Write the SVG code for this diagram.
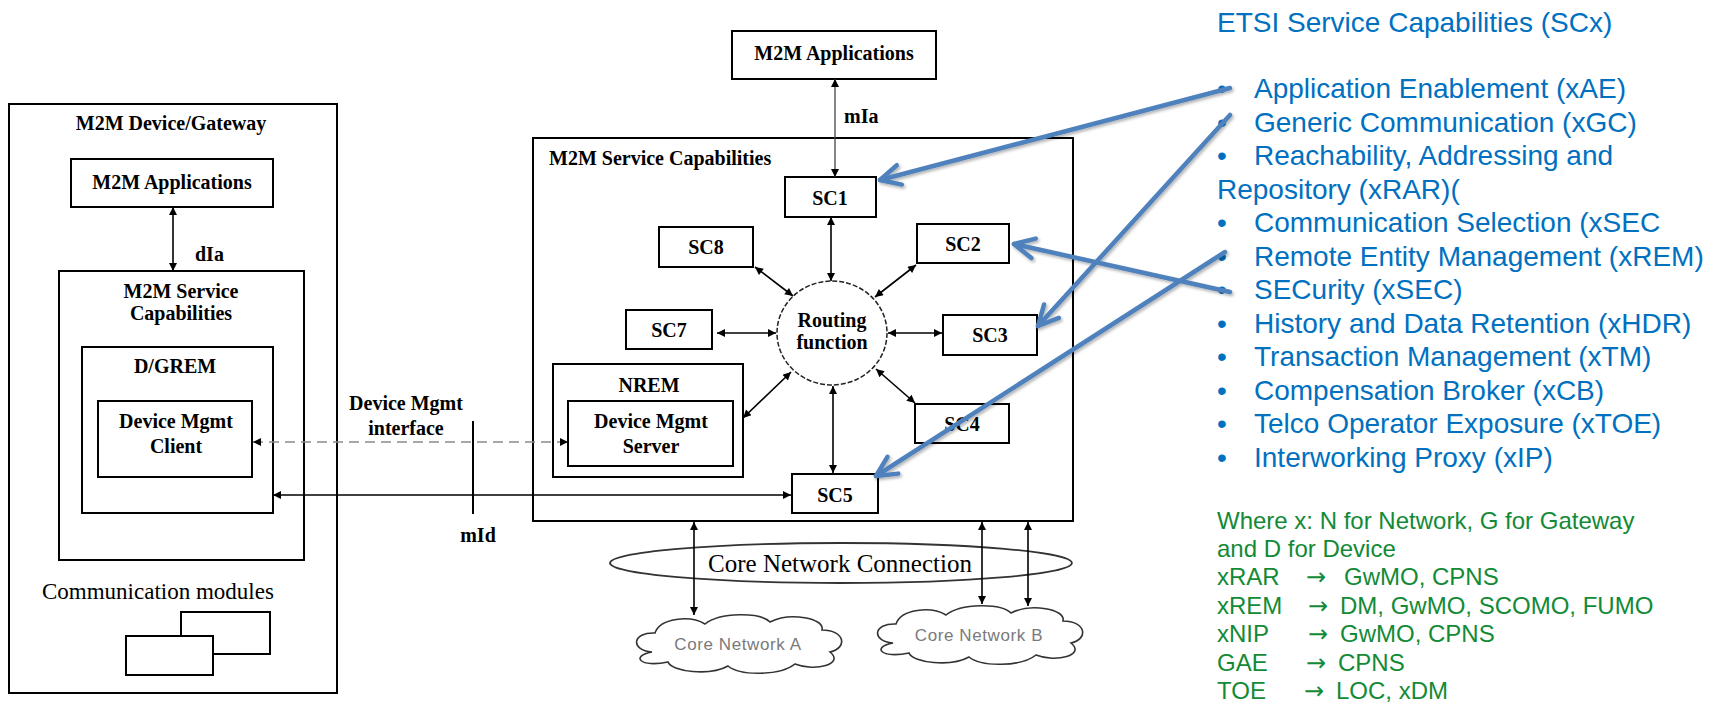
<svg xmlns="http://www.w3.org/2000/svg" width="1717" height="702" viewBox="0 0 1717 702">
<style>
.bx{fill:#fff;stroke:#000;stroke-width:2}
.lb{font-family:"Liberation Serif",serif;font-weight:bold;font-size:20px;fill:#000;text-anchor:middle}
.lbs{font-family:"Liberation Serif",serif;font-weight:bold;font-size:20px;fill:#000}
.rg{font-family:"Liberation Serif",serif;font-size:23px;fill:#000}
.cn{font-family:"Liberation Sans",sans-serif;font-size:17px;fill:#7a7a7a;text-anchor:middle;letter-spacing:0.6px}
.cl{fill:#fff;stroke:#333;stroke-width:1.6}
.c{fill:none;stroke:#000;stroke-width:1.6;marker-start:url(#ah);marker-end:url(#ah)}
.bl{fill:none;stroke:#4F81BD;stroke-width:4.5;stroke-linecap:round;marker-end:url(#bh)}
.bt{font-family:"Liberation Sans",Arial,sans-serif;font-size:28px;fill:#0070C0}
.gt{font-family:"Liberation Sans",Arial,sans-serif;font-size:24px;fill:#138A36}
.ga{font-family:"DejaVu Sans",sans-serif;font-size:24px;fill:#138A36}
</style>
<defs>
<marker id="ah" viewBox="0 0 10 10" refX="10" refY="5" markerWidth="10" markerHeight="8" markerUnits="userSpaceOnUse" orient="auto-start-reverse"><path d="M0,0 L10,5 L0,10 z" fill="#000"/></marker>
<marker id="bh" viewBox="-24 -13 28 26" refX="0" refY="0" markerWidth="28" markerHeight="26" markerUnits="userSpaceOnUse" orient="auto"><path d="M-20,-10 L0,0 L-20,10" fill="none" stroke="#4F81BD" stroke-width="4.5" stroke-linecap="round" stroke-linejoin="round"/></marker>
<filter id="sh" x="-10%" y="-10%" width="120%" height="120%"><feDropShadow dx="1.5" dy="2" stdDeviation="1.5" flood-color="#000" flood-opacity="0.3"/></filter>
</defs>
<rect width="1717" height="702" fill="#fff"/>

<g id="device-gateway">
<rect class="bx" x="9" y="104" width="328" height="589"/>
<text class="lb" x="171" y="130">M2M Device/Gateway</text>
</g>
<g id="dg-apps">
<rect class="bx" x="71" y="159" width="202" height="48"/>
<text class="lb" x="172" y="189">M2M Applications</text>
</g>
<g id="dg-sc">
<rect class="bx" x="59" y="271" width="245" height="289"/>
<text class="lb" x="181" y="298">M2M Service</text>
<text class="lb" x="181" y="320">Capabilities</text>
</g>
<g id="dgrem">
<rect class="bx" x="82" y="347" width="191" height="166"/>
<text class="lb" x="175" y="373">D/GREM</text>
</g>
<g id="dm-client">
<rect class="bx" x="98" y="401" width="154" height="76"/>
<text class="lb" x="176" y="428">Device Mgmt</text>
<text class="lb" x="176" y="453">Client</text>
</g>
<g id="comm-modules">
<text class="rg" x="42" y="599">Communication modules</text>
<rect class="bx" x="181" y="612" width="89" height="42"/>
<rect class="bx" x="126" y="636" width="87" height="39"/>
</g>

<g id="net-apps">
<rect class="bx" x="732" y="31" width="204" height="48"/>
<text class="lb" x="834" y="60">M2M Applications</text>
</g>
<g id="net-sc">
<rect class="bx" x="533" y="138" width="540" height="383"/>
<text class="lbs" x="549" y="165">M2M Service Capabilities</text>
</g>
<g id="sc1"><rect class="bx" x="785" y="177" width="91" height="40"/><text class="lb" x="830" y="205">SC1</text></g>
<g id="sc8"><rect class="bx" x="659" y="227" width="94" height="40"/><text class="lb" x="706" y="254">SC8</text></g>
<g id="sc2"><rect class="bx" x="917" y="224" width="92" height="39"/><text class="lb" x="963" y="251">SC2</text></g>
<g id="sc7"><rect class="bx" x="626" y="310" width="86" height="39"/><text class="lb" x="669" y="337">SC7</text></g>
<g id="sc3"><rect class="bx" x="943" y="315" width="94" height="40"/><text class="lb" x="990" y="342">SC3</text></g>
<g id="routing">
<ellipse cx="832" cy="333" rx="55" ry="52" fill="#fff" stroke="#222" stroke-width="1.5" stroke-dasharray="5 2"/>
<text class="lb" x="832" y="327">Routing</text>
<text class="lb" x="832" y="349">function</text>
</g>
<g id="nrem">
<rect class="bx" x="553" y="364" width="190" height="113"/>
<text class="lb" x="649" y="392">NREM</text>
</g>
<g id="dm-server">
<rect class="bx" x="568" y="401" width="165" height="65"/>
<text class="lb" x="651" y="428">Device Mgmt</text>
<text class="lb" x="651" y="453">Server</text>
</g>
<g id="sc4"><rect class="bx" x="915" y="404" width="94" height="39"/><text class="lb" x="962" y="431">SC4</text></g>
<g id="sc5"><rect class="bx" x="792" y="474" width="86" height="39"/><text class="lb" x="835" y="502">SC5</text></g>

<g id="core-connection">
<ellipse cx="841" cy="563" rx="231" ry="20" fill="none" stroke="#333" stroke-width="1.8"/>
<text class="rg" x="840" y="572" text-anchor="middle" style="font-size:25px">Core Network Connection</text>
</g>
<g id="core-a">
<path class="cl" d="M652 652 C630 650 632 632 655 633 C660 618 690 615 705 624 C720 612 760 612 770 622 C790 612 825 618 822 630 C845 630 848 648 830 652 C845 664 815 672 795 664 C780 676 740 676 728 666 C710 676 672 672 668 662 C640 668 630 656 652 652 Z"/>
<text class="cn" x="738" y="650">Core Network A</text>
</g>
<g id="core-b">
<path class="cl" transform="translate(241,-9)" d="M652 652 C630 650 632 632 655 633 C660 618 690 615 705 624 C720 612 760 612 770 622 C790 612 825 618 822 630 C845 630 848 648 830 652 C845 664 815 672 795 664 C780 676 740 676 728 666 C710 676 672 672 668 662 C640 668 630 656 652 652 Z"/>
<text class="cn" x="979" y="641">Core Network B</text>
</g>

<g id="labels">
<text class="lbs" x="195" y="261">dIa</text>
<text class="lbs" x="844" y="123">mIa</text>
<text class="lb" x="406" y="410">Device Mgmt</text>
<text class="lb" x="406" y="435">interface</text>
<text class="lb" x="478" y="542">mId</text>
</g>

<g id="connectors">
<line class="c" x1="173" y1="207" x2="173" y2="271"/>
<line class="c" x1="835" y1="79" x2="835" y2="177" style="stroke:#444;stroke-width:1.3"/>
<line class="c" x1="831" y1="217" x2="831" y2="281"/>
<line class="c" x1="755" y1="267" x2="793" y2="296"/>
<line class="c" x1="916" y1="265" x2="875" y2="297"/>
<line class="c" x1="717" y1="333" x2="776" y2="333"/>
<line class="c" x1="888" y1="333" x2="942" y2="333"/>
<line class="c" x1="743" y1="418" x2="791" y2="372"/>
<line class="c" x1="876" y1="369" x2="915" y2="403"/>
<line class="c" x1="833" y1="386" x2="833" y2="473"/>
<line class="c" x1="694" y1="522" x2="694" y2="615"/>
<line class="c" x1="982" y1="522" x2="982" y2="604"/>
<line class="c" x1="1028" y1="522" x2="1028" y2="606"/>
<line class="c" x1="253" y1="442" x2="568" y2="442" style="stroke:#8a8a8a;stroke-dasharray:10 6"/>
<line class="c" x1="273" y1="495" x2="791" y2="495"/>
<line x1="473" y1="421" x2="473" y2="514" stroke="#000" stroke-width="2"/>
</g>

<g id="sc-list">
<text class="bt" x="1217" y="32">ETSI Service Capabilities (SCx)</text>
<text class="bt" x="1217" y="98">•</text><text class="bt" x="1254" y="98">Application Enablement (xAE)</text>
<text class="bt" x="1217" y="131.5">•</text><text class="bt" x="1254" y="131.5">Generic Communication (xGC)</text>
<text class="bt" x="1217" y="165">•</text><text class="bt" x="1254" y="165">Reachability, Addressing and</text>
<text class="bt" x="1217" y="198.5">Repository (xRAR)(</text>
<text class="bt" x="1217" y="232">•</text><text class="bt" x="1254" y="232">Communication Selection (xSEC</text>
<text class="bt" x="1217" y="265.5">•</text><text class="bt" x="1254" y="265.5">Remote Entity Management (xREM)</text>
<text class="bt" x="1217" y="299">•</text><text class="bt" x="1254" y="299">SECurity (xSEC)</text>
<text class="bt" x="1217" y="332.5">•</text><text class="bt" x="1254" y="332.5">History and Data Retention (xHDR)</text>
<text class="bt" x="1217" y="366">•</text><text class="bt" x="1254" y="366">Transaction Management (xTM)</text>
<text class="bt" x="1217" y="399.5">•</text><text class="bt" x="1254" y="399.5">Compensation Broker (xCB)</text>
<text class="bt" x="1217" y="433">•</text><text class="bt" x="1254" y="433">Telco Operator Exposure (xTOE)</text>
<text class="bt" x="1217" y="466.5">•</text><text class="bt" x="1254" y="466.5">Interworking Proxy (xIP)</text>
</g>

<g id="mapping">
<text class="gt" x="1217" y="529">Where x: N for Network, G for Gateway</text>
<text class="gt" x="1217" y="557">and D for Device</text>
<text class="gt" x="1217" y="585">xRAR</text><text class="ga" x="1306" y="585">→</text><text class="gt" x="1344" y="585">GwMO, CPNS</text>
<text class="gt" x="1217" y="614">xREM</text><text class="ga" x="1308" y="614">→</text><text class="gt" x="1340" y="614">DM, GwMO, SCOMO, FUMO</text>
<text class="gt" x="1217" y="642">xNIP</text><text class="ga" x="1308" y="642">→</text><text class="gt" x="1340" y="642">GwMO, CPNS</text>
<text class="gt" x="1217" y="671">GAE</text><text class="ga" x="1306" y="671">→</text><text class="gt" x="1338" y="671">CPNS</text>
<text class="gt" x="1217" y="699">TOE</text><text class="ga" x="1304" y="699">→</text><text class="gt" x="1336" y="699">LOC, xDM</text>
</g>

<g id="callouts" filter="url(#sh)">
<line class="bl" x1="1230" y1="88" x2="880" y2="180"/>
<line class="bl" x1="1230" y1="115" x2="1038" y2="326"/>
<line class="bl" x1="1230" y1="292" x2="1014" y2="244"/>
<line class="bl" x1="1225" y1="252" x2="876" y2="476"/>
</g>
</svg>
